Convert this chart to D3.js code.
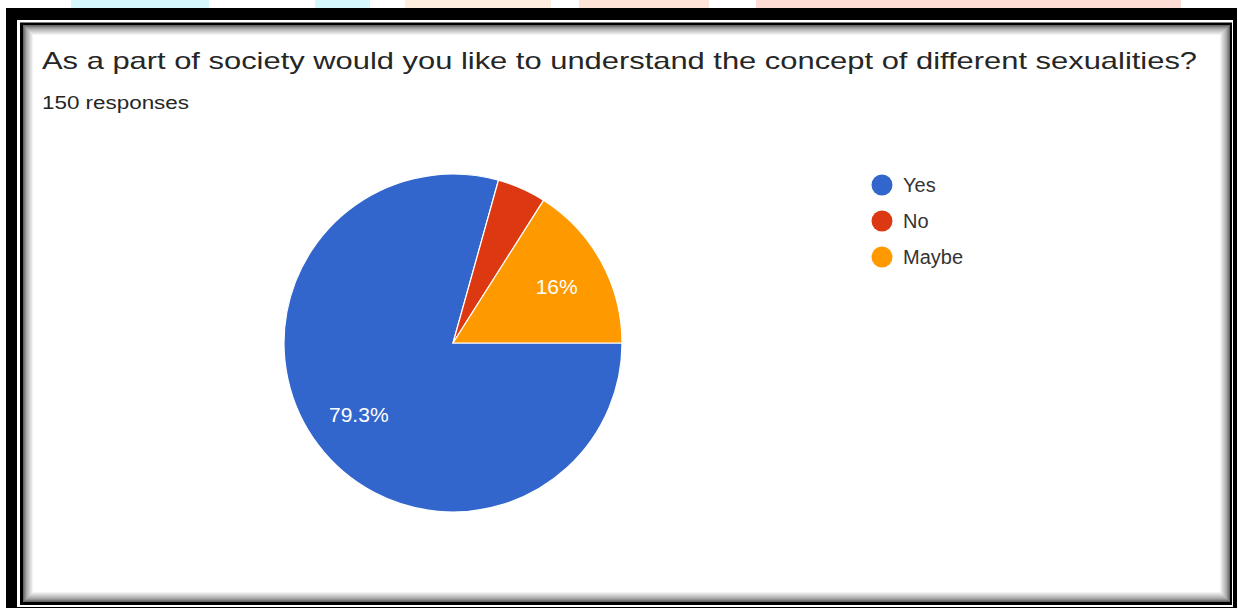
<!DOCTYPE html>
<html>
<head>
<meta charset="utf-8">
<script src="https://cdn.jsdelivr.net/npm/d3@7"></script>
<style>
  html, body { margin: 0; padding: 0; background: #fff; }
  svg { display: block; }
  text { font-family: "Liberation Sans", Arial, sans-serif; }
</style>
</head>
<body>
<svg id="chart" width="1238" height="610"></svg>
<script>
const title = "As a part of society would you like to understand the concept of different sexualities?";
const subtitle = "150 responses";
const categories = ["Yes", "No", "Maybe"];
const counts = [119, 7, 24];
const colors = ["#3366cc", "#dc3912", "#ff9900"];

const svg = d3.select("#chart");

// faint background watermark strip at the top (part of the screenshot)
const wm = [
  {x0: 71, x1: 209, c: "#d6f7fb"}, {x0: 315, x1: 370, c: "#d6f7fb"},
  {x0: 405, x1: 551, c: "#fdeee0"}, {x0: 579, x1: 709, c: "#fde3d8"},
  {x0: 756, x1: 1181, c: "#fddcd6"}
];
svg.selectAll("rect.wm").data(wm).join("rect").attr("class", "wm")
  .attr("x", d => d.x0).attr("y", 0).attr("width", d => d.x1 - d.x0).attr("height", 24)
  .attr("fill", d => d.c);

// screenshot frame
svg.append("rect").attr("x", 6).attr("y", 8).attr("width", 1231).attr("height", 600).attr("fill", "#000");
svg.append("rect").attr("x", 17).attr("y", 20).attr("width", 1216).attr("height", 587).attr("fill", "#fff");
svg.append("rect").attr("x", 20).attr("y", 22.5).attr("width", 1212).attr("height", 582.5).attr("fill", "#000");
const ix = 23, iy = 25, iw = 1207, ih = 577;
svg.append("rect").attr("x", ix).attr("y", iy).attr("width", iw).attr("height", ih).attr("fill", "#fff");
// inset shadow
const shades = d3.range(11);
const shadeColor = d3.scaleLinear().domain([0, 3, 10]).range(["#666666", "#a8a8a8", "#ffffff"]).interpolate(d3.interpolateRgb);
svg.selectAll("rect.shade").data(shades).join("rect").attr("class", "shade")
  .attr("x", d => ix + d + 0.5).attr("y", d => iy + d + 0.5)
  .attr("width", d => iw - 2 * d - 1).attr("height", d => ih - 2 * d - 1)
  .attr("fill", "none").attr("stroke", d => shadeColor(d)).attr("stroke-width", 1);

// title
svg.append("text").attr("x", 42).attr("y", 69).attr("font-size", 24).attr("fill", "#262626")
  .attr("textLength", 1155).attr("lengthAdjust", "spacingAndGlyphs").text(title);
svg.append("text").attr("x", 42).attr("y", 109).attr("font-size", 18).attr("fill", "#262626")
  .attr("textLength", 147).attr("lengthAdjust", "spacingAndGlyphs").text(subtitle);

// pie
const cx = 453, cy = 343, R = 169;
const total = d3.sum(counts);
const data = categories.map((c, i) => ({cat: c, value: counts[i], color: colors[i]}));
const pie = d3.pie().value(d => d.value).sort(null)
  .startAngle(Math.PI / 2).endAngle(Math.PI / 2 + 2 * Math.PI);
const arcs = pie(data);
const arc = d3.arc().innerRadius(0).outerRadius(R);
const labelArc = d3.arc().innerRadius(R * 0.7).outerRadius(R * 0.7);

const g = svg.append("g").attr("transform", `translate(${cx},${cy})`);
g.selectAll("path").data(arcs).join("path")
  .attr("d", arc).attr("fill", d => d.data.color)
  .attr("stroke", "#fff").attr("stroke-width", 1.2);

const fmt = v => {
  const p = Math.round(v / total * 1000) / 10;
  return p + "%";
};
g.selectAll("text.lbl").data(arcs.filter(d => d.data.value / total >= 0.1)).join("text")
  .attr("class", "lbl")
  .attr("transform", d => `translate(${labelArc.centroid(d)})`)
  .attr("text-anchor", "middle").attr("dominant-baseline", "central")
  .attr("font-size", 21).attr("fill", "#fff")
  .text(d => fmt(d.data.value));

// legend
const lg = svg.append("g").attr("transform", "translate(882,185)");
const items = lg.selectAll("g").data(data).join("g")
  .attr("transform", (d, i) => `translate(0,${i * 36})`);
items.append("circle").attr("r", 10.5).attr("fill", d => d.color);
items.append("text").attr("x", 21).attr("y", 0).attr("dominant-baseline", "central")
  .attr("font-size", 20).attr("fill", "#333").text(d => d.cat);
</script>
</body>
</html>
